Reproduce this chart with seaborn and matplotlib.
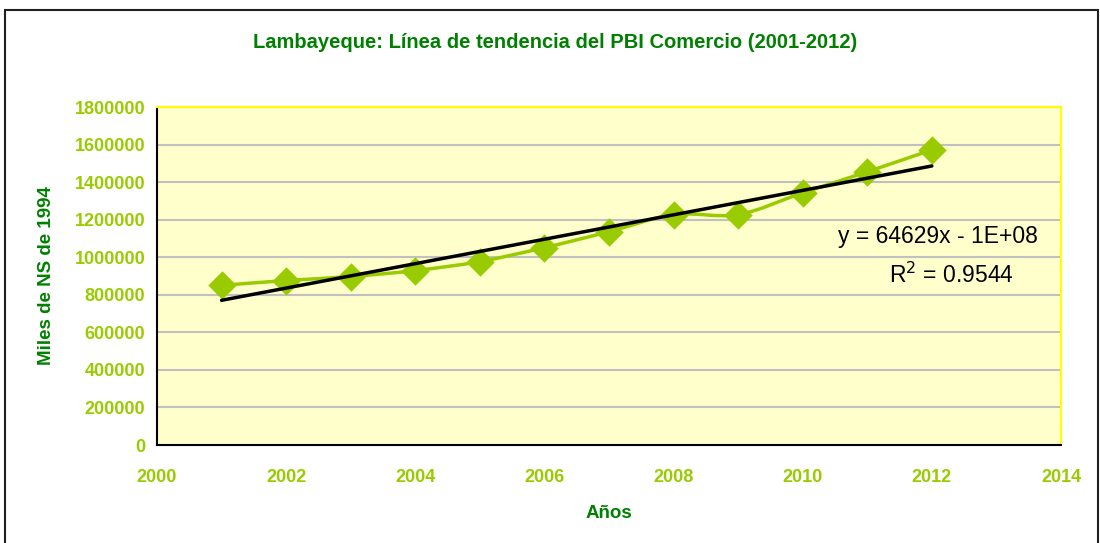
import numpy as np
import pandas as pd
import matplotlib.pyplot as plt
import seaborn as sns
from matplotlib.path import Path
from matplotlib.patches import PathPatch, Rectangle

years = [2001, 2002, 2003, 2004, 2005, 2006, 2007, 2008, 2009, 2010, 2011, 2012]
pbi = [850000, 876000, 897000, 929000, 977000, 1051000, 1136000, 1227000,
       1227000, 1343000, 1455000, 1572000]
y_ticks = [0, 200000, 400000, 600000, 800000, 1000000, 1200000, 1400000,
           1600000, 1800000]
x_ticks = [2000, 2002, 2004, 2006, 2008, 2010, 2012, 2014]

title = "Lambayeque: Línea de tendencia del PBI Comercio (2001-2012)"
eq_text = "y = 64629x - 1E+08"
r2_text = "R$^2$ = 0.9544"

df = pd.DataFrame({"anio": years, "pbi": pbi})

LIME = "#99CC00"
DKGREEN = "#008000"

sns.set_style("white")
plt.rcParams["font.family"] = ["Liberation Sans", "DejaVu Sans"]

fig = plt.figure(figsize=(11, 5.43), dpi=100)
ax = fig.add_axes([157 / 1100, 1 - 445 / 543, 904 / 1100, 338 / 543])
ax.set_facecolor("#FFFFCC")

# outer chart frame
fig.patches.append(Rectangle((5 / 1100, -0.05), 1093 / 1100, 1.05 - 10 / 543,
                             transform=fig.transFigure, fill=False,
                             edgecolor="#202020", linewidth=1.5))

# smoothed line (Excel-style bezier through the points)
pts = df[["anio", "pbi"]].to_numpy(dtype=float)
n = len(pts)
verts = [tuple(pts[0])]
codes = [Path.MOVETO]
for i in range(n - 1):
    p0 = pts[max(i - 1, 0)]
    p1 = pts[i]
    p2 = pts[i + 1]
    p3 = pts[min(i + 2, n - 1)]
    c1 = p1 + (p2 - p0) / 6
    c2 = p2 - (p3 - p1) / 6
    verts += [tuple(c1), tuple(c2), tuple(p2)]
    codes += [Path.CURVE4] * 3
ax.add_patch(PathPatch(Path(verts, codes), facecolor="none", edgecolor=LIME,
                       linewidth=2.5, zorder=3))

sns.scatterplot(data=df, x="anio", y="pbi", marker="D", s=210, color=LIME,
                edgecolor=LIME, linewidth=0, ax=ax, zorder=4)

sns.regplot(data=df, x="anio", y="pbi", scatter=False, ci=None, ax=ax,
            line_kws={"color": "black", "linewidth": 2.5, "zorder": 5})

ax.set_xlim(2000, 2014)
ax.set_ylim(0, 1800000)
ax.set_xticks(x_ticks)
ax.set_yticks(y_ticks)
ax.set_xticklabels([str(v) for v in x_ticks])
ax.set_yticklabels([str(v) for v in y_ticks])
ax.yaxis.grid(True, color="#C0C0C0", linewidth=1.5)
ax.set_axisbelow(True)

ax.tick_params(axis="both", direction="out", length=5, width=1.2,
               color="black", labelcolor=LIME, labelsize=13)
ax.tick_params(axis="x", pad=12)
for lbl in ax.get_xticklabels() + ax.get_yticklabels():
    lbl.set_fontweight("bold")

for side in ["left", "bottom"]:
    ax.spines[side].set_color("black")
    ax.spines[side].set_linewidth(1.5)
for side in ["top", "right"]:
    ax.spines[side].set_color("#FFFF00")
    ax.spines[side].set_linewidth(1.5)

ax.set_xlabel("Años", color=DKGREEN, fontsize=13.5, fontweight="bold",
              labelpad=14)
ax.set_ylabel("Miles de NS de 1994", color=DKGREEN, fontsize=13.5,
              fontweight="bold", labelpad=14)

fig.text(555 / 1100, 1 - 42 / 543, title, color=DKGREEN, fontsize=14.5,
         fontweight="bold", ha="center", va="center")

ax.text(2012.1, 1110000, eq_text, fontsize=16.5, ha="center", va="center",
        color="black")
ax.text(2012.3, 905000, r2_text, fontsize=16.5, ha="center", va="center",
        color="black")

plt.savefig("out.png", dpi=100)
